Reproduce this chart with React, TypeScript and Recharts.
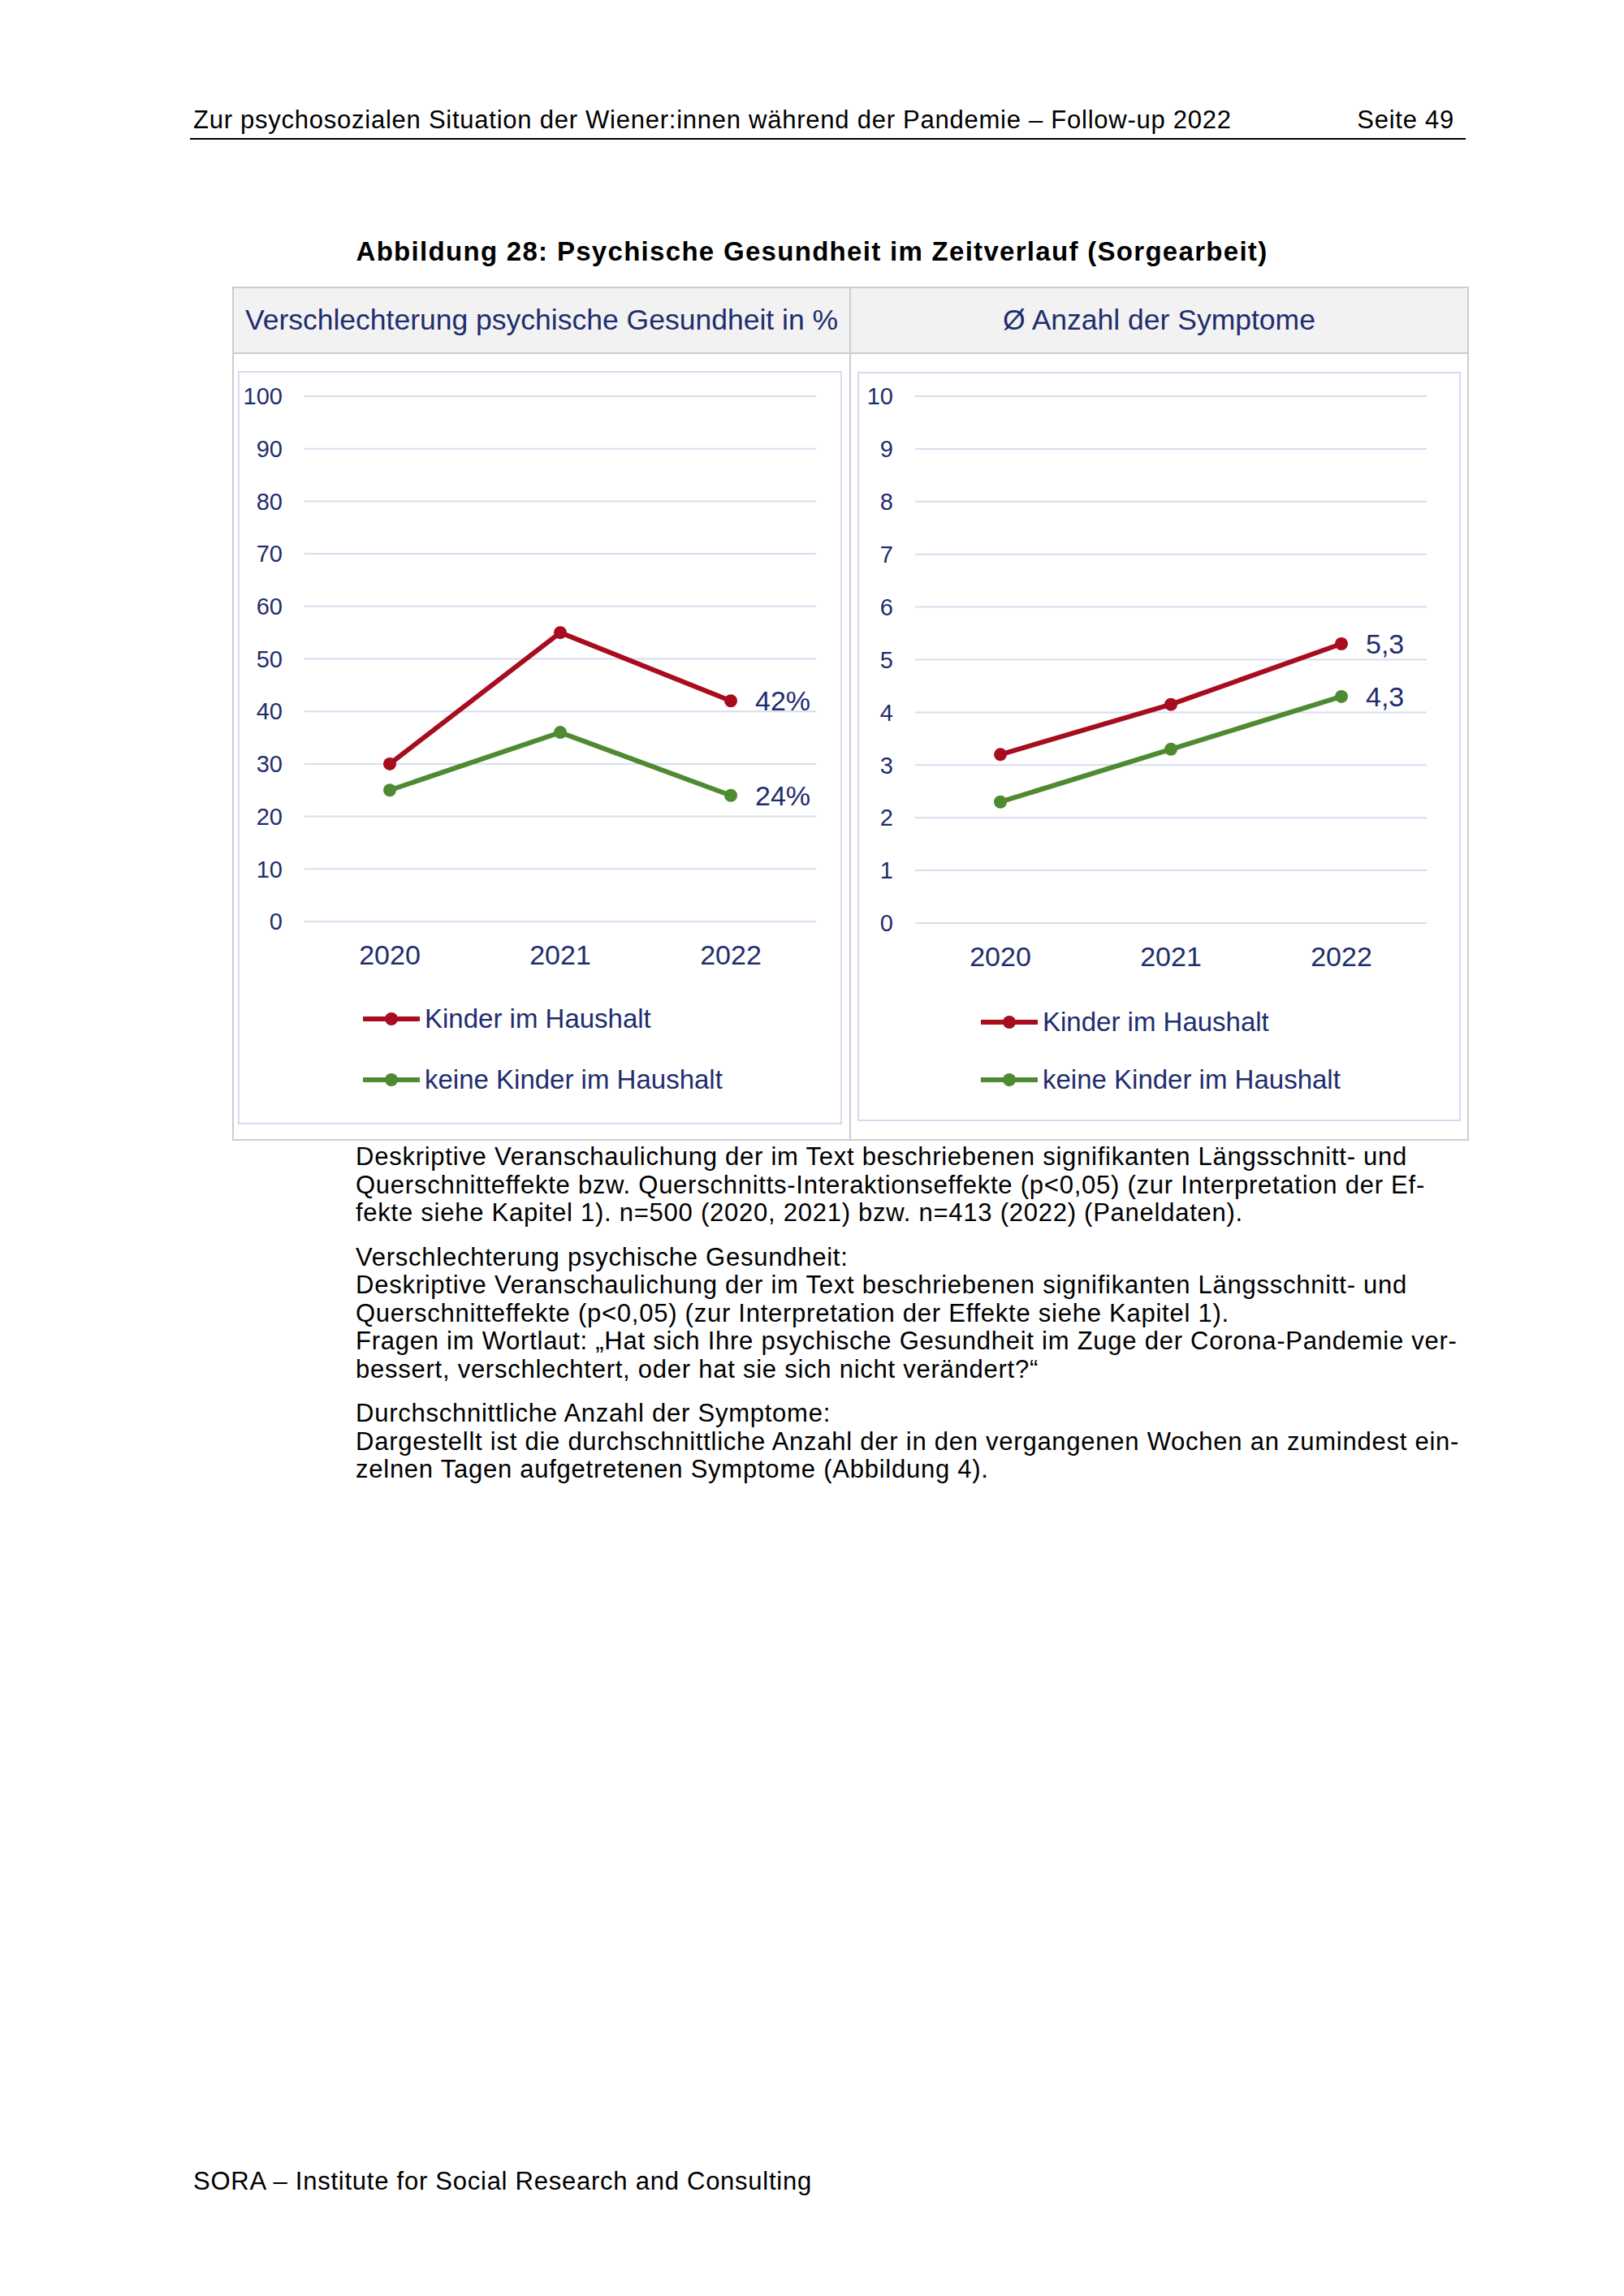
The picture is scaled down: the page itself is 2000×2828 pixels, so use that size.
import React from "react";
import { LineChart, Line, XAxis, YAxis, CartesianGrid, Legend, LabelList } from "recharts";

const years = ["2020", "2021", "2022"];
const seriesNames = ["Kinder im Haushalt", "keine Kinder im Haushalt"];

// Verschlechterung psychische Gesundheit in %
const worseWithKids = [30, 55, 42];
const worseNoKids = [25, 36, 24];
const pctTicks = [0, 10, 20, 30, 40, 50, 60, 70, 80, 90, 100];

// Ø Anzahl der Symptome
const symptomsWithKids = [3.2, 4.15, 5.3];
const symptomsNoKids = [2.3, 3.3, 4.3];
const countTicks = [0, 1, 2, 3, 4, 5, 6, 7, 8, 9, 10];

const NAVY = "#1f2d6e";
const RED = "#a80c1f";
const GREEN = "#4e8a31";
const GRID = "#d8def0";
const FONT = "'Liberation Sans', Arial, sans-serif";

const pctData = years.map((year, i) => ({ year, kids: worseWithKids[i], noKids: worseNoKids[i] }));
const countData = years.map((year, i) => ({ year, kids: symptomsWithKids[i], noKids: symptomsNoKids[i] }));

const notes = [
  [
    "Deskriptive Veranschaulichung der im Text beschriebenen signifikanten Längsschnitt- und",
    "Querschnitteffekte bzw. Querschnitts-Interaktionseffekte (p<0,05) (zur Interpretation der Ef-",
    "fekte siehe Kapitel 1). n=500 (2020, 2021) bzw. n=413 (2022) (Paneldaten).",
  ],
  [
    "Verschlechterung psychische Gesundheit:",
    "Deskriptive Veranschaulichung der im Text beschriebenen signifikanten Längsschnitt- und",
    "Querschnitteffekte (p<0,05) (zur Interpretation der Effekte siehe Kapitel 1).",
    "Fragen im Wortlaut: „Hat sich Ihre psychische Gesundheit im Zuge der Corona-Pandemie ver-",
    "bessert, verschlechtert, oder hat sie sich nicht verändert?“",
  ],
  [
    "Durchschnittliche Anzahl der Symptome:",
    "Dargestellt ist die durchschnittliche Anzahl der in den vergangenen Wochen an zumindest ein-",
    "zelnen Tagen aufgetretenen Symptome (Abbildung 4).",
  ],
];

type PanelProps = {
  data: any[];
  ticks: number[];
  width: number;
  height: number;
  yWidth: number;
  margin: { top: number; right: number; bottom: number; left: number };
  fmt: (v: number) => string;
  legendLeft: number;
  legendTop: number;
  rowH: number;
};

function endLabel(fmt: (v: number) => string) {
  return (props: any) => {
    const { index, value } = props;
    if (index !== years.length - 1) return null;
    const x = props.x ?? props.viewBox?.x;
    const y = props.y ?? props.viewBox?.y;
    return (
      <text x={x + 30} y={y} dominantBaseline="central" fill={NAVY} fontSize={34} fontFamily={FONT}>
        {fmt(Number(value))}
      </text>
    );
  };
}

function Panel({ data, ticks, width, height, yWidth, margin, fmt, legendLeft, legendTop, rowH }: PanelProps) {
  return (
    <LineChart width={width} height={height} data={data} margin={margin}>
      <CartesianGrid vertical={false} stroke={GRID} strokeWidth={2} />
      <XAxis
        dataKey="year"
        axisLine={false}
        tickLine={false}
        tickSize={0}
        tickMargin={29}
        height={60}
        padding={{ left: 105, right: 105 }}
        tick={{ fontSize: 34, fill: NAVY, fontFamily: FONT }}
      />
      <YAxis
        width={yWidth}
        domain={[ticks[0], ticks[ticks.length - 1]]}
        ticks={ticks}
        interval={0}
        axisLine={false}
        tickLine={false}
        tickSize={0}
        tickMargin={27}
        tick={{ fontSize: 29, fill: NAVY, fontFamily: FONT }}
      />
      <Legend
        layout="horizontal"
        verticalAlign="middle"
        align="center"
        wrapperStyle={{ left: legendLeft, top: legendTop, width: 560 }}
        content={(props: any) => (
          <div>
            {(props.payload || []).map((entry: any) => (
              <div key={entry.value} style={{ display: "flex", alignItems: "center", height: rowH }}>
                <svg width={70} height={20} style={{ display: "block" }}>
                  <line x1={0} x2={70} y1={10} y2={10} stroke={entry.color} strokeWidth={6} />
                  <circle cx={35} cy={10} r={8} fill={entry.color} />
                </svg>
                <span style={{ marginLeft: 6, fontSize: 33, color: NAVY, fontFamily: FONT, whiteSpace: "nowrap" }}>
                  {entry.value}
                </span>
              </div>
            ))}
          </div>
        )}
      />
      <Line
        dataKey="kids"
        name={seriesNames[0]}
        stroke={RED}
        strokeWidth={6}
        dot={{ r: 8, fill: RED, stroke: RED, strokeWidth: 0 }}
        activeDot={false}
        isAnimationActive={false}
      >
        <LabelList dataKey="kids" content={endLabel(fmt)} />
      </Line>
      <Line
        dataKey="noKids"
        name={seriesNames[1]}
        stroke={GREEN}
        strokeWidth={6}
        dot={{ r: 8, fill: GREEN, stroke: GREEN, strokeWidth: 0 }}
        activeDot={false}
        isAnimationActive={false}
      >
        <LabelList dataKey="noKids" content={endLabel(fmt)} />
      </Line>
    </LineChart>
  );
}

const abs = (left: number, top: number, extra: React.CSSProperties = {}): React.CSSProperties => ({
  position: "absolute",
  left,
  top,
  ...extra,
});

const pageText: React.CSSProperties = { fontSize: 31, letterSpacing: 0.75, lineHeight: "36px", whiteSpace: "nowrap" };

export default function App() {
  let lineTop = 1425 - 18;
  const noteLines: React.ReactNode[] = [];
  notes.forEach((para, p) => {
    para.forEach((line, i) => {
      noteLines.push(
        <div key={`${p}-${i}`} style={abs(438, lineTop, pageText)}>
          {line}
        </div>
      );
      lineTop += 34.5;
    });
    lineTop += 20;
  });

  return (
    <div style={{ position: "absolute", left: 0, top: 0, width: 2000, height: 2828, background: "#fff", fontFamily: FONT, color: "#000" }}>
      {/* page header */}
      <div style={abs(238, 130, pageText)}>
        Zur psychosozialen Situation der Wiener:innen während der Pandemie – Follow-up 2022
      </div>
      <div style={abs(1591, 130, { ...pageText, width: 200, textAlign: "right" })}>Seite 49</div>
      <div style={abs(234, 170, { width: 1571, height: 2, background: "#000" })} />

      {/* figure title */}
      <div style={abs(300, 292, { width: 1400, textAlign: "center", fontSize: 33, letterSpacing: 1.3, fontWeight: "bold", lineHeight: "36px" })}>
        Abbildung 28: Psychische Gesundheit im Zeitverlauf (Sorgearbeit)
      </div>

      {/* table frame */}
      <div style={abs(286, 353, { width: 1523, height: 1052, border: "2px solid #cdcdcd", boxSizing: "border-box" })} />
      <div style={abs(288, 355, { width: 1519, height: 79, background: "#f2f2f2", borderBottom: "2px solid #cdcdcd" })} />
      <div style={abs(1046, 353, { width: 2, height: 1052, background: "#cdcdcd" })} />
      <div style={abs(288, 374, { width: 758, textAlign: "center", fontSize: 35.5, lineHeight: "40px", color: NAVY, whiteSpace: "nowrap" })}>
        Verschlechterung psychische Gesundheit in %
      </div>
      <div style={abs(1048, 374, { width: 759, textAlign: "center", fontSize: 35.5, lineHeight: "40px", color: NAVY, whiteSpace: "nowrap" })}>
        Ø Anzahl der Symptome
      </div>

      {/* chart boxes */}
      <div style={abs(293, 457, { width: 744, height: 928, border: "2px solid #d5dcef", boxSizing: "border-box" })} />
      <div style={abs(1056, 458, { width: 743, height: 923, border: "2px solid #d5dcef", boxSizing: "border-box" })} />

      <div style={abs(293, 457)}>
        <Panel
          data={pctData}
          ticks={pctTicks}
          width={744}
          height={928}
          yWidth={82}
          margin={{ top: 31, right: 32, bottom: 190, left: 0 }}
          fmt={(v) => `${v}%`}
          legendLeft={154}
          legendTop={760}
          rowH={75}
        />
      </div>
      <div style={abs(1056, 458)}>
        <Panel
          data={countData}
          ticks={countTicks}
          width={743}
          height={923}
          yWidth={71}
          margin={{ top: 30, right: 42, bottom: 184, left: 0 }}
          fmt={(v) => String(v).replace(".", ",")}
          legendLeft={152}
          legendTop={765}
          rowH={71}
        />
      </div>

      {/* notes */}
      {noteLines}

      {/* footer */}
      <div style={abs(238, 2669, pageText)}>
        SORA – Institute for Social Research and Consulting
      </div>
    </div>
  );
}
